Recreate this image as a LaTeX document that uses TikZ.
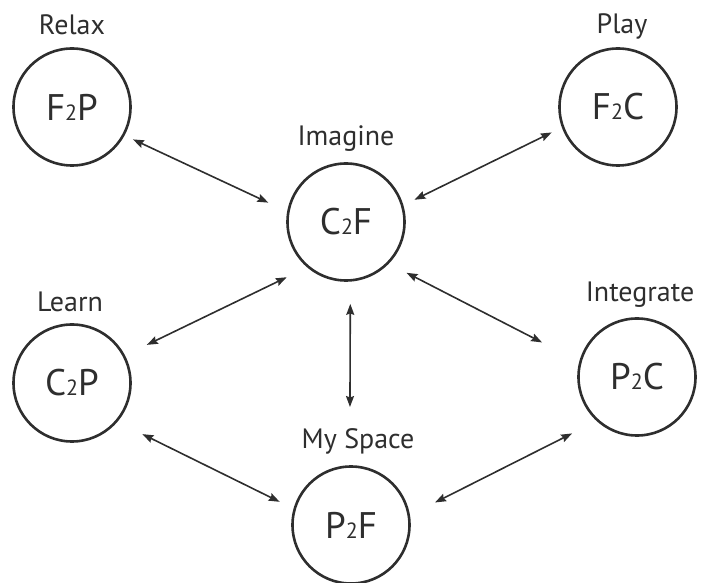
\documentclass[tikz,border=0pt]{standalone}
\usepackage{fontspec}
\setmainfont{PT Sans}
\usetikzlibrary{arrows.meta,calc,positioning}
\definecolor{inkgray}{HTML}{2E2E2E}
\definecolor{txtgray}{HTML}{2E2E2E}

\newcommand{\sub}[1]{{\fontsize{22}{22}\selectfont #1}}

\begin{document}
\begin{tikzpicture}[x=1pt,y=1pt,
  mode/.style={circle,draw=inkgray,line width=2.6pt,minimum size=117pt,inner sep=0pt,
    text=txtgray,font=\fontsize{37}{37}\selectfont},
  tag/.style={text=txtgray,font=\fontsize{28}{28}\selectfont,inner sep=0pt,text depth=0pt},
  link/.style={inkgray,line width=1.6pt,{Stealth[length=11pt,width=8pt,inset=1.5pt]}-{Stealth[length=11pt,width=8pt,inset=1.5pt]}}]

\useasboundingbox (0,0) rectangle (705,582);

% === The six modes ===
\node[mode] (f2p) at (72,475) {F\sub{2}P};
\node[mode] (f2c) at (618,475) {F\sub{2}C};
\node[mode] (c2f) at (346,360) {C\sub{2}F};
\node[mode] (c2p) at (72,199) {C\sub{2}P};
\node[mode] (p2c) at (637,205) {P\sub{2}C};
\node[mode] (p2f) at (351,57) {P\sub{2}F};

% === Labels above the circles ===
\node[tag,above=12pt of f2p] (relax) {Relax};
\node[tag,above=13pt of f2c,xshift=4pt] (play) {Play};
\node[tag,above=16pt of c2f] (imagine) {Imagine};
\node[tag,above=11pt of c2p,xshift=-2pt] (learn) {Learn};
\node[tag,above=15pt of p2c,xshift=3pt] (integrate) {Integrate};
\node[tag,above=17pt of p2f,xshift=7pt] (myspace) {My Space};

% === Two-way arrows ===
\draw[link] ($(f2p)+(-28:69)$) -- ($(c2f)+(166:80)$);
\draw[link] ($(c2f)+(18:72)$) -- ($(f2c)+(201:71)$);
\draw[link] ($(c2f)+(223:81)$) -- ($(c2p)+(27:84)$);
\draw[link] ($(c2f)+(273:82)$) -- ($(p2f)+(90.5:118)$);
\draw[link] ($(c2f)+(-40:79)$) -- ($(p2c)+(160:101)$);
\draw[link] ($(c2p)+(-36:87)$) -- ($(p2f)+(162:75)$);
\draw[link] ($(p2f)+(15:87)$) -- ($(p2c)+(221:86)$);

\end{tikzpicture}
\end{document}
